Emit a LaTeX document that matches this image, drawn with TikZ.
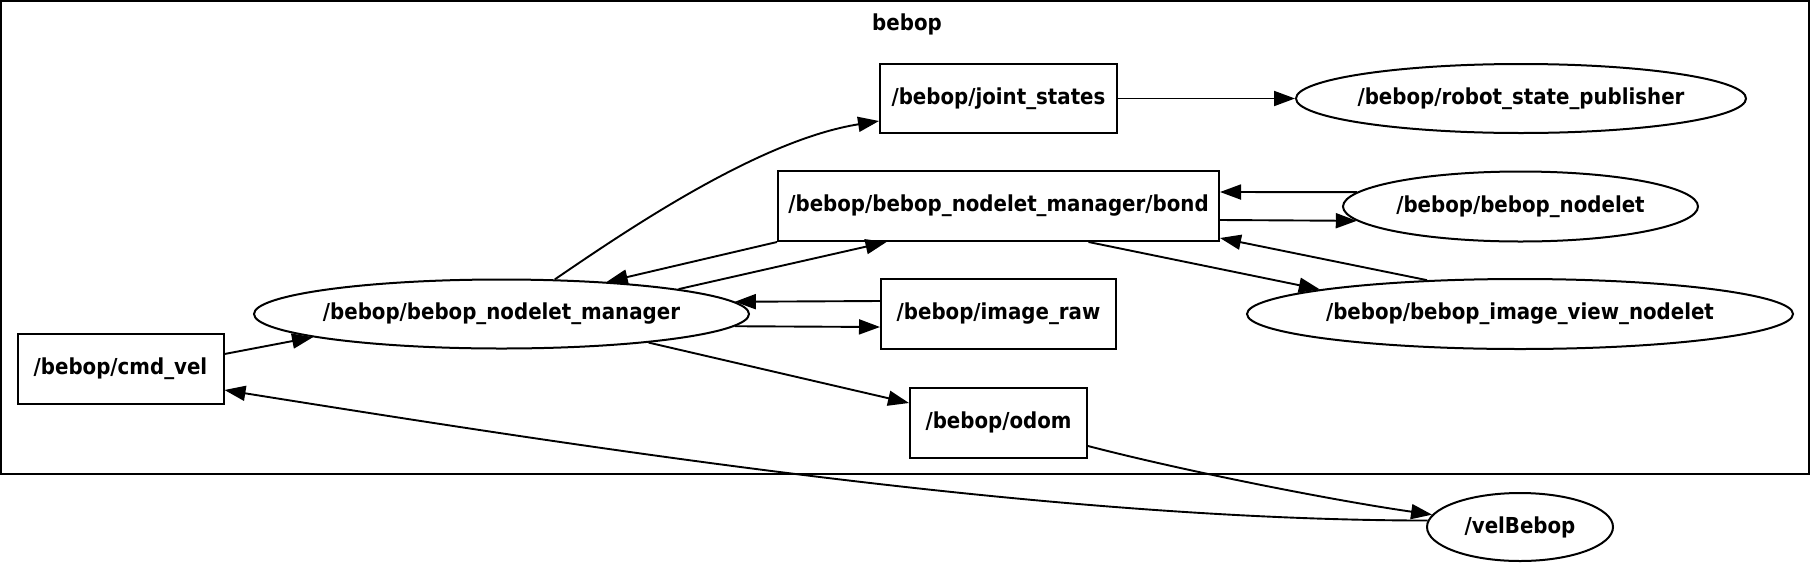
\documentclass[tikz,border=0pt]{standalone}
\usepackage{fontspec}
\setmainfont{DejaVu Sans Condensed}
\usetikzlibrary{arrows.meta,shapes.geometric}
\tikzset{every node/.style={font=\bfseries\fontsize{22}{24}\selectfont},
 topic/.style={draw,rectangle,line width=2pt,inner sep=0pt},
 rosnode/.style={draw,ellipse,line width=2pt,inner sep=-40pt},
 link/.style={-{Triangle[length=21pt,width=15pt]},line width=1.9pt}}
\begin{document}
\begin{tikzpicture}[x=1pt,y=-1pt]

\useasboundingbox[fill=white] (0,0) rectangle (1811,563);
\draw[line width=2.2pt] (1,1) rectangle (1809,474);
\node (grouplabel) at (907,24) {bebop};

\node[topic,minimum width=237pt,minimum height=69pt] (joints) at (998.5,98.5) {/bebop/joint\_states};
\node[rosnode,minimum width=450pt,minimum height=69pt] (rsp) at (1521,98.5) {/bebop/robot\_state\_publisher};
\node[topic,minimum width=441pt,minimum height=70pt] (bond) at (998.5,206) {/bebop/bebop\_nodelet\_manager/bond};
\node[rosnode,minimum width=355pt,minimum height=70pt] (nodelet) at (1520.5,206.5) {/bebop/bebop\_nodelet};
\node[rosnode,minimum width=495pt,minimum height=69pt] (manager) at (501.5,314) {/bebop/bebop\_nodelet\_manager};
\node[topic,minimum width=235pt,minimum height=70pt] (raw) at (998.5,314) {/bebop/image\_raw};
\node[rosnode,minimum width=546pt,minimum height=70pt] (viewer) at (1520,314) {/bebop/bebop\_image\_view\_nodelet};
\node[topic,minimum width=206pt,minimum height=70pt] (cmdvel) at (120.5,368.5) {/bebop/cmd\_vel};
\node[topic,minimum width=177pt,minimum height=70pt] (odom) at (998.5,422.5) {/bebop/odom};
\node[rosnode,minimum width=186pt,minimum height=68pt] (velbebop) at (1520,527) {/velBebop};

\draw[link] (joints) -- (rsp);
\draw[link] (manager.33) .. controls (630,228) and (760,140) .. ([yshift=-22.5pt]joints.west);
\draw[link] (bond.south west) -- (manager.17);
\draw[link] (manager.8.5) -- ([xshift=-112pt]bond.south);
\draw[link] ([yshift=-14pt]bond.east) -- (nodelet.185);
\draw[link] (nodelet.175) -- ([yshift=14pt]bond.east);
\draw[link] (viewer.160.5) -- ([yshift=4pt]bond.south east);
\draw[link] ([xshift=90pt]bond.south) -- (viewer.173.6);
\draw[link] ([yshift=13pt]raw.west) -- (manager.3.4);
\draw[link] (manager.-3.1) -- ([yshift=-13pt]raw.west);
\draw[link] (manager.-11.7) -- ([yshift=19.5pt]odom.west);
\draw[link] ([yshift=-23.5pt]odom.east) .. controls (1180,470) and (1330,500) .. (velbebop.172.1);
\draw[link] (velbebop.176.9) .. controls (1050,520) and (600,450) .. ([yshift=-21.5pt]cmdvel.east);
\draw[link] ([yshift=14.5pt]cmdvel.east) -- (manager.187.9);

\end{tikzpicture}
\end{document}
